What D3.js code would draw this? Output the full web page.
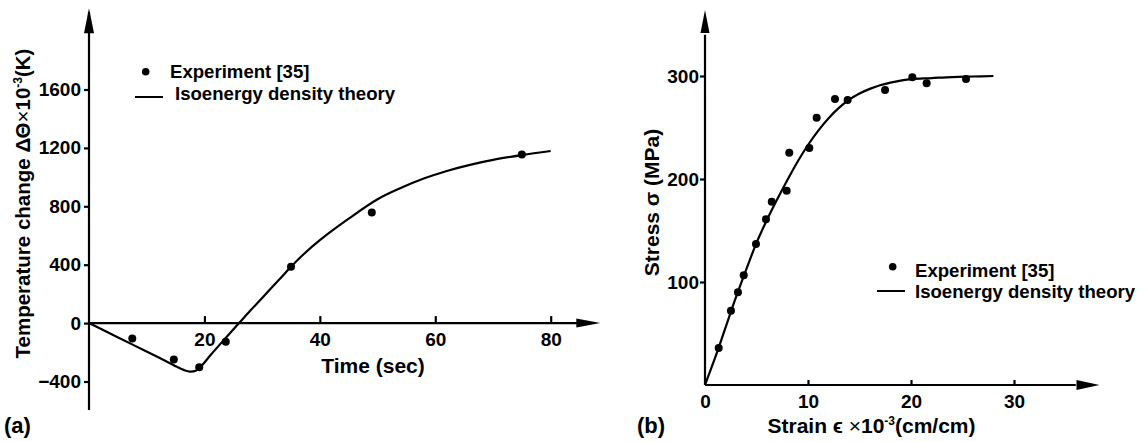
<!DOCTYPE html>
<html>
<head>
<meta charset="utf-8">
<script src="https://cdn.jsdelivr.net/npm/d3@7"></script>
<style>
  body { margin: 0; background: #fff; }
  svg { display: block; }
  text { font-family: "Liberation Sans", Arial, Helvetica, sans-serif; font-weight: bold; fill: #000; }
</style>
</head>
<body>
<svg id="chart" width="1148" height="442"></svg>
<script>
// ---- Panel (a): temperature change against time ----
const timeCurve = [0, 4, 8, 12, 15, 16.5, 17.5, 18.5, 19.5, 21, 23, 25, 26, 28, 30, 33, 35, 37, 40, 45, 50, 54, 58, 62, 66, 70, 75, 80];
const tempCurve = [0, -78, -156, -234, -295, -322, -332, -326, -292, -222, -132, -44, 0, 88, 172, 300, 386, 465, 568, 715, 848, 925, 990, 1042, 1084, 1118, 1151, 1179];
const timeExp = [7.5, 14.7, 19.1, 23.7, 35, 49, 75];
const tempExp = [-105, -249, -303, -128, 386, 758, 1155];
const timeTicks = [20, 40, 60, 80];
const tempTicks = [-400, 0, 400, 800, 1200, 1600];

// ---- Panel (b): stress against strain ----
const strainCurve = [0, 1, 2, 3, 4, 5, 6, 7, 8, 9, 10, 11, 12, 13, 14, 15, 16, 17, 18, 19, 20, 22, 24, 26, 28];
const stressCurve = [0, 27, 56, 85, 112, 138, 160, 180, 199, 217, 233, 247, 259, 269, 277, 283, 287.5, 291, 293.5, 295.5, 297, 298, 299, 299.5, 300];
const strainExp = [1.33, 2.52, 3.2, 3.76, 4.95, 5.92, 6.48, 7.93, 8.18, 10.13, 10.84, 12.62, 13.85, 17.48, 20.13, 21.52, 25.34];
const stressExp = [36, 72, 90, 106.5, 137, 161, 178, 188.5, 225.5, 230, 259.5, 277.7, 276.7, 286.4, 298.7, 293, 297];
const strainTicks = [0, 10, 20, 30];
const stressTicks = [100, 200, 300];

const legendLabels = ["Experiment [35]", "Isoenergy density theory"];

const svg = d3.select("#chart");
svg.append("rect").attr("width", 1148).attr("height", 442).attr("fill", "#fff");

const AXIS_W = 2.2;
const TICK_FONT = 19;
const TITLE_FONT = 21;
const LEGEND_FONT = 18.6;

function arrowUp(g, x, yTip, len, half) {
  g.append("path")
    .attr("d", `M${x},${yTip}L${x - half},${yTip + len}L${x + half},${yTip + len}Z`)
    .attr("fill", "#000");
}
function arrowRight(g, xTip, y, len, half) {
  g.append("path")
    .attr("d", `M${xTip},${y}L${xTip - len},${y - half}L${xTip - len},${y + half}Z`)
    .attr("fill", "#000");
}

function styleAxis(g) {
  g.select(".domain").remove();
  g.selectAll(".tick line").attr("stroke", "#000").attr("stroke-width", AXIS_W);
  g.selectAll(".tick text")
    .attr("fill", "#000")
    .style("font-size", TICK_FONT + "px")
    .style("font-family", '"Liberation Sans", Arial, sans-serif')
    .style("font-weight", "bold");
}

// legend: o = {lineX, lineY, dotX, dotY, text1X, text1Y, text2X, text2Y}
function legend(g, o) {
  g.append("circle").attr("cx", o.dotX).attr("cy", o.dotY).attr("r", 3.8).attr("fill", "#000");
  g.append("text").attr("x", o.text1X).attr("y", o.text1Y).style("font-size", LEGEND_FONT + "px").text(legendLabels[0]);
  g.append("line")
    .attr("x1", o.lineX).attr("x2", o.lineX + 28).attr("y1", o.lineY).attr("y2", o.lineY)
    .attr("stroke", "#000").attr("stroke-width", 2);
  g.append("text").attr("x", o.text2X).attr("y", o.text2Y).style("font-size", LEGEND_FONT + "px").text(legendLabels[1]);
}

// ================= Panel (a) =================
{
  const x = d3.scaleLinear().domain([0, 80]).range([89, 550.7]);
  const y = d3.scaleLinear().domain([-400, 1600]).range([381.5, 89.5]);
  const g = svg.append("g");

  // axis lines with arrowheads
  g.append("line").attr("x1", x(0)).attr("x2", x(0)).attr("y1", y(-595)).attr("y2", y(2130))
    .attr("stroke", "#000").attr("stroke-width", AXIS_W);
  arrowUp(g, x(0), y(2157), 25, 5);
  g.append("line").attr("x1", x(0)).attr("x2", x(86)).attr("y1", y(0)).attr("y2", y(0))
    .attr("stroke", "#000").attr("stroke-width", AXIS_W);
  arrowRight(g, x(88.6), y(0), 24, 4.5);

  const yAx = g.append("g").attr("transform", `translate(${x(0)},0)`)
    .call(d3.axisLeft(y).tickValues(tempTicks).tickFormat(d3.format("d")).tickSizeInner(5).tickSizeOuter(0).tickPadding(3));
  styleAxis(yAx);
  const xAx = g.append("g").attr("transform", `translate(0,${y(0)})`)
    .call(d3.axisBottom(x).tickValues(timeTicks).tickFormat(d3.format("d")).tickSizeInner(-7).tickSizeOuter(0).tickPadding(9));
  styleAxis(xAx);

  // theory curve
  const line = d3.line().x(d => x(d[0])).y(d => y(d[1])).curve(d3.curveCatmullRom.alpha(0.5));
  g.append("path").datum(d3.zip(timeCurve, tempCurve)).attr("d", line)
    .attr("fill", "none").attr("stroke", "#000").attr("stroke-width", 2.2);

  // experiment points
  g.selectAll("circle.exp").data(d3.zip(timeExp, tempExp)).join("circle")
    .attr("class", "exp").attr("cx", d => x(d[0])).attr("cy", d => y(d[1])).attr("r", 4).attr("fill", "#000");

  // titles
  g.append("text").attr("x", 373).attr("y", 373).attr("text-anchor", "middle")
    .style("font-size", TITLE_FONT + "px").text("Time (sec)");
  const yt = g.append("text").attr("transform", "translate(30,203.5) rotate(-90)")
    .attr("text-anchor", "middle").style("font-size", "20.5px");
  yt.append("tspan").text("Temperature change \u0394\u0398");
  yt.append("tspan").style("font-weight", "normal").text("\u00d7");
  yt.append("tspan").text("10");
  yt.append("tspan").attr("dy", -8).style("font-size", "12px").text("-3");
  yt.append("tspan").attr("dy", 8).text("(K)");

  g.append("text").attr("x", 4).attr("y", 433).style("font-size", "22px").text("(a)");

  legend(g, { lineX: 135, lineY: 97, dotX: 145.7, dotY: 71.7, text1X: 170, text1Y: 77.5, text2X: 175, text2Y: 99.5 });
}

// ================= Panel (b) =================
{
  const x = d3.scaleLinear().domain([0, 30]).range([705, 1014]);
  const y = d3.scaleLinear().domain([0, 300]).range([385, 76]);
  const g = svg.append("g");

  g.append("line").attr("x1", x(0)).attr("x2", x(0)).attr("y1", y(0)).attr("y2", y(340))
    .attr("stroke", "#000").attr("stroke-width", AXIS_W);
  arrowUp(g, x(0), y(364), 23, 4.5);
  g.append("line").attr("x1", x(0)).attr("x2", x(36)).attr("y1", y(0)).attr("y2", y(0))
    .attr("stroke", "#000").attr("stroke-width", AXIS_W);
  arrowRight(g, x(38.3), y(0), 23, 5);

  const yAx = g.append("g").attr("transform", `translate(${x(0)},0)`)
    .call(d3.axisLeft(y).tickValues(stressTicks).tickFormat(d3.format("d")).tickSizeInner(5).tickSizeOuter(0).tickPadding(1));
  styleAxis(yAx);
  const xAx = g.append("g").attr("transform", `translate(0,${y(0)})`)
    .call(d3.axisBottom(x).tickValues(strainTicks).tickFormat(d3.format("d")).tickSizeInner(-5).tickSizeOuter(0).tickPadding(10));
  styleAxis(xAx);
  xAx.selectAll(".tick").filter(d => d === 0).select("line").remove();

  const line = d3.line().x(d => x(d[0])).y(d => y(d[1])).curve(d3.curveCatmullRom.alpha(0.5));
  g.append("path").datum(d3.zip(strainCurve, stressCurve)).attr("d", line)
    .attr("fill", "none").attr("stroke", "#000").attr("stroke-width", 2.2);

  g.selectAll("circle.exp").data(d3.zip(strainExp, stressExp)).join("circle")
    .attr("class", "exp").attr("cx", d => x(d[0])).attr("cy", d => y(d[1])).attr("r", 4).attr("fill", "#000");

  const xt = g.append("text").attr("x", 871.5).attr("y", 433).attr("text-anchor", "middle")
    .style("font-size", TITLE_FONT + "px");
  xt.append("tspan").text("Strain \u03f5 ");
  xt.append("tspan").style("font-weight", "normal").text("\u00d7");
  xt.append("tspan").text("10");
  xt.append("tspan").attr("dy", -8).style("font-size", "12px").text("-3");
  xt.append("tspan").attr("dy", 8).text("(cm/cm)");

  g.append("text").attr("transform", "translate(659,202.5) rotate(-90)")
    .attr("text-anchor", "middle").style("font-size", TITLE_FONT + "px").text("Stress \u03c3 (MPa)");

  g.append("text").attr("x", 637).attr("y", 433).style("font-size", "22px").text("(b)");

  legend(g, { lineX: 877, lineY: 291, dotX: 892.7, dotY: 266.7, text1X: 915, text1Y: 276.5, text2X: 915, text2Y: 297.5 });
}
</script>
</body>
</html>
